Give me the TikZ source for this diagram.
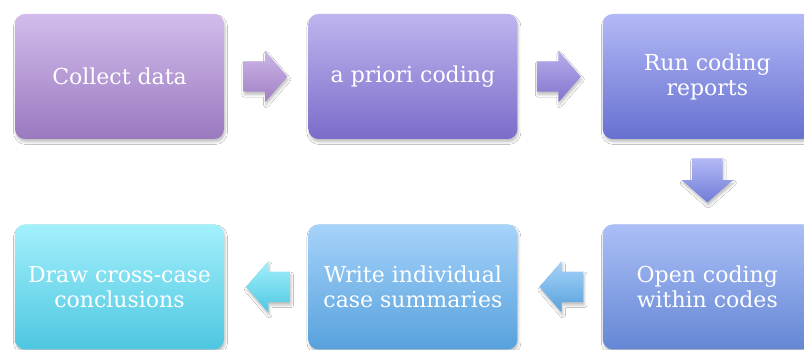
\documentclass[tikz,border=0pt]{standalone}
\usepackage{fontspec}
\setmainfont{DejaVu Serif}
\usetikzlibrary{positioning,calc,shapes.arrows,shadows.blur}

\definecolor{collecttop}{HTML}{D2BCEC}
\definecolor{collectbot}{HTML}{9A79BF}
\definecolor{aprioritop}{HTML}{BFB5EE}
\definecolor{aprioribot}{HTML}{7B6CCA}
\definecolor{reportstop}{HTML}{B3B9F6}
\definecolor{reportsbot}{HTML}{6670D0}
\definecolor{opentop}{HTML}{ABBFF7}
\definecolor{openbot}{HTML}{6587D4}
\definecolor{writetop}{HTML}{A6D3FA}
\definecolor{writebot}{HTML}{57A1DC}
\definecolor{drawtop}{HTML}{A3F0FC}
\definecolor{drawbot}{HTML}{4EC7E0}

\tikzset{
    softshadow/.style={blur shadow={shadow xshift=1pt, shadow yshift=-3pt, shadow blur radius=2.5pt, shadow opacity=25}},
    stepbox/.style={rounded corners=10pt, minimum width=209pt, minimum height=125pt,
        inner sep=0pt, text=white, align=center, font=\fontsize{22}{25}\selectfont, softshadow},
    blockarrow/.style={single arrow, inner xsep=0pt, inner ysep=15pt, minimum height=44pt,
        single arrow head extend=10.5pt, single arrow tip angle=98, softshadow},
    downarrow/.style={blockarrow, inner xsep=15pt, inner ysep=0pt, shape border rotate=270}
}

\begin{document}
\begin{tikzpicture}[x=1pt, y=1pt]
    \path[use as bounding box, fill=white] (0,0) rectangle (804,350);
    \clip (0,0) rectangle (804,350);

    % top row
    \node[stepbox, top color=collecttop, bottom color=collectbot] (collect) at (119.5,273.5) {Collect data};
    \node[stepbox, top color=aprioritop, bottom color=aprioribot, right=84pt of collect] (apriori) {a priori coding};
    \node[stepbox, top color=reportstop, bottom color=reportsbot, right=85pt of apriori] (reports) {Run coding\\reports};

    % bottom row
    \node[stepbox, top color=opentop, bottom color=openbot, below=85pt of reports] (opencode) {Open coding\\within codes};
    \node[stepbox, top color=writetop, bottom color=writebot, left=85pt of opencode] (summaries) {Write individual\\case summaries};
    \node[stepbox, top color=drawtop, bottom color=drawbot, left=84pt of summaries] (conclude) {Draw cross-case\\conclusions};

    % arrows
    \node[blockarrow, top color=collecttop!90!collectbot, bottom color=collectbot!90!collecttop, right=19pt of collect] (arrowa) {};
    \node[blockarrow, top color=aprioritop!90!aprioribot, bottom color=aprioribot!90!aprioritop, right=19pt of apriori] (arrowb) {};
    \node[downarrow, top color=reportstop, bottom color=reportsbot!85!opentop, below=19pt of reports] (arrowc) {};
    \node[blockarrow, top color=writetop, bottom color=writebot, shape border rotate=180, left=19pt of opencode] (arrowd) {};
    \node[blockarrow, top color=drawtop, bottom color=drawbot, shape border rotate=180, left=18pt of summaries] (arrowe) {};
\end{tikzpicture}
\end{document}
